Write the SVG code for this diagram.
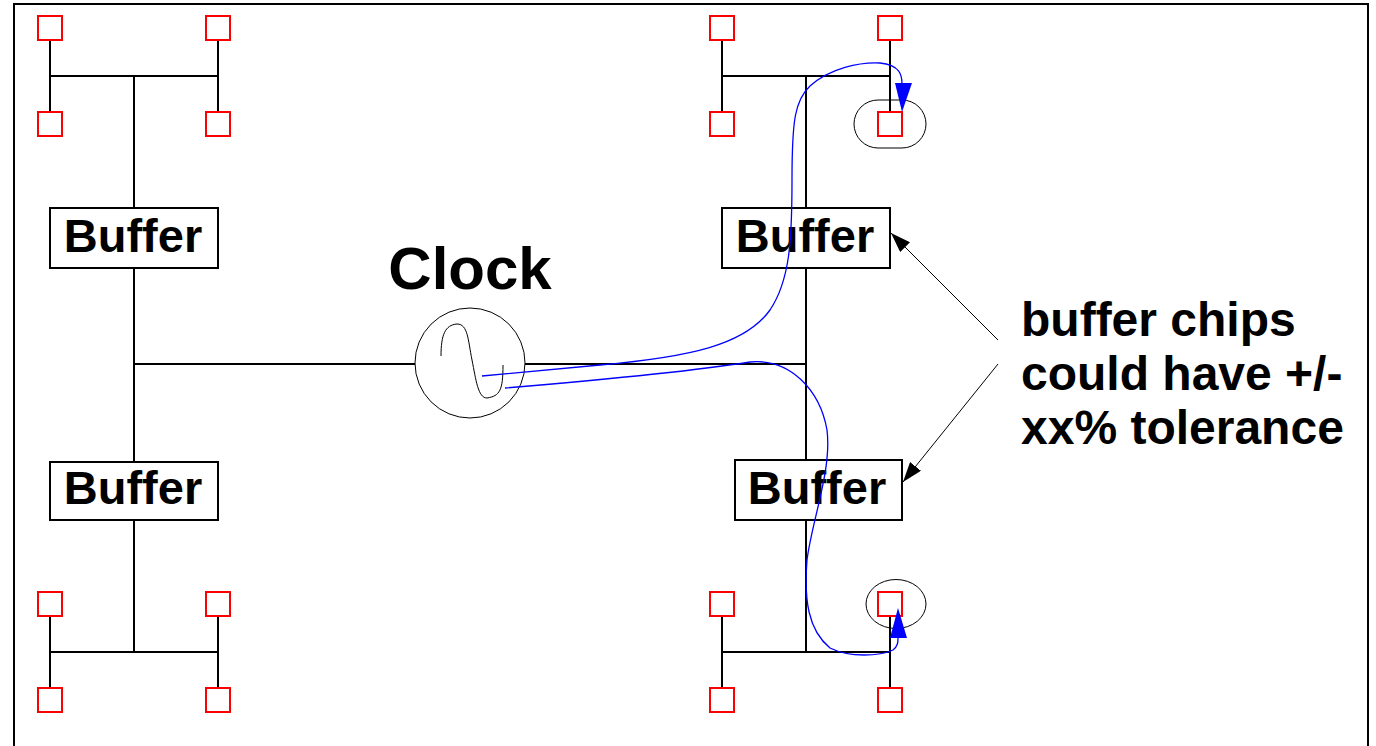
<svg xmlns="http://www.w3.org/2000/svg" width="1376" height="746" viewBox="0 0 1376 746">
<defs>
<style>
.ln{stroke:#000;stroke-width:2;fill:none}
.pad{stroke:#f00;stroke-width:2;fill:#fff}
.box{stroke:#000;stroke-width:2;fill:#fff}
.bt{font-family:"Liberation Sans",Arial,sans-serif;font-weight:bold;font-size:47px;fill:#000;text-anchor:middle}
.blue{stroke:#00f;stroke-width:1.3;fill:none}
.thin{stroke:#000;stroke-width:1;fill:none}
</style>
<marker id="ah" viewBox="0 0 20 14" refX="20" refY="7" markerWidth="20" markerHeight="14" markerUnits="userSpaceOnUse" orient="auto">
<path d="M0,0 L20,7 L0,14 Z" fill="#000"/>
</marker>
</defs>
<rect x="0" y="0" width="1376" height="746" fill="#fff"/>
<rect id="frame" x="14" y="4" width="1354" height="780" class="ln"/>

<g id="connectors">
<path class="ln" d="M50,28 V124 M218,28 V124 M50,76 H218 M134,76 V208 M134,268 V462 M134,520 V652 M50,604 V700 M218,604 V700 M50,652 H218"/>
<path class="ln" d="M722,28 V124 M890,28 V124 M722,76 H890 M806,76 V208 M806,268 V460 M806,520 V652 M722,604 V700 M890,604 V700 M722,652 H890"/>
<path class="ln" d="M134,364 H415 M525,364 H806"/>
<line class="thin" x1="998" y1="340" x2="891" y2="233" marker-end="url(#ah)"/>
<line class="thin" x1="998" y1="364" x2="903" y2="482" marker-end="url(#ah)"/>
</g>

<g id="pads">
<rect class="pad" x="38" y="16" width="24" height="24"/>
<rect class="pad" x="206" y="16" width="24" height="24"/>
<rect class="pad" x="38" y="112" width="24" height="24"/>
<rect class="pad" x="206" y="112" width="24" height="24"/>
<rect class="pad" x="38" y="592" width="24" height="24"/>
<rect class="pad" x="206" y="592" width="24" height="24"/>
<rect class="pad" x="38" y="688" width="24" height="24"/>
<rect class="pad" x="206" y="688" width="24" height="24"/>
<rect class="pad" x="710" y="16" width="24" height="24"/>
<rect class="pad" x="878" y="16" width="24" height="24"/>
<rect class="pad" x="710" y="112" width="24" height="24"/>
<rect class="pad" x="878" y="112" width="24" height="24"/>
<rect class="pad" x="710" y="592" width="24" height="24"/>
<rect class="pad" x="878" y="592" width="24" height="24"/>
<rect class="pad" x="710" y="688" width="24" height="24"/>
<rect class="pad" x="878" y="688" width="24" height="24"/>
</g>

<g id="buffer-tl"><rect class="box" x="50" y="208" width="168" height="60"/><text class="bt" x="133" y="252">Buffer</text></g>
<g id="buffer-bl"><rect class="box" x="50" y="462" width="168" height="58"/><text class="bt" x="133" y="504">Buffer</text></g>
<g id="buffer-tr"><rect class="box" x="722" y="208" width="168" height="60"/><text class="bt" x="805" y="252">Buffer</text></g>
<g id="buffer-br"><rect class="box" x="735" y="460" width="167" height="60"/><text class="bt" x="817" y="504">Buffer</text></g>

<g id="clock">
<circle cx="470" cy="363" r="55" class="thin" fill="#fff"/>
<path class="thin" d="M441,356 C441,335 445,325 457,324 C468,324 468,340 472,360 C476,380 478,398 487,398 C500,396 503,390 503,365"/>
<text x="470" y="289" font-family="Liberation Sans,Arial,sans-serif" font-weight="bold" font-size="60" text-anchor="middle">Clock</text>
</g>

<g id="highlights">
<rect x="854" y="100" width="72" height="48" rx="24" ry="24" class="thin"/>
<ellipse cx="896" cy="604" rx="30" ry="24.5" class="thin"/>
</g>

<g id="skew-paths">
<path class="blue" d="M482,376 L600,365 C690,357 745,345 770,310 C790,280 792,240 792,180 C792,120 795,100 810,86 C830,68 860,62 880,63 C900,65 902,75 902,84"/>
<polygon points="895,83 912,83 902,112" fill="#00f"/>
<path class="blue" d="M505,388 C600,380 700,370 750,362 C790,358 820,390 827,430 C832,470 812,520 807,560 C804,600 808,630 830,648 C850,658 880,656 893,650 C898,646 898,642 898,638"/>
<polygon points="890,638 907,638 898,608" fill="#00f"/>
</g>

<g id="note">
<text font-family="Liberation Sans,Arial,sans-serif" font-weight="bold" font-size="48" fill="#000">
<tspan x="1021" y="336">buffer chips</tspan>
<tspan x="1021" y="390">could have +/-</tspan>
<tspan x="1021" y="444">xx% tolerance</tspan>
</text>
</g>
</svg>
